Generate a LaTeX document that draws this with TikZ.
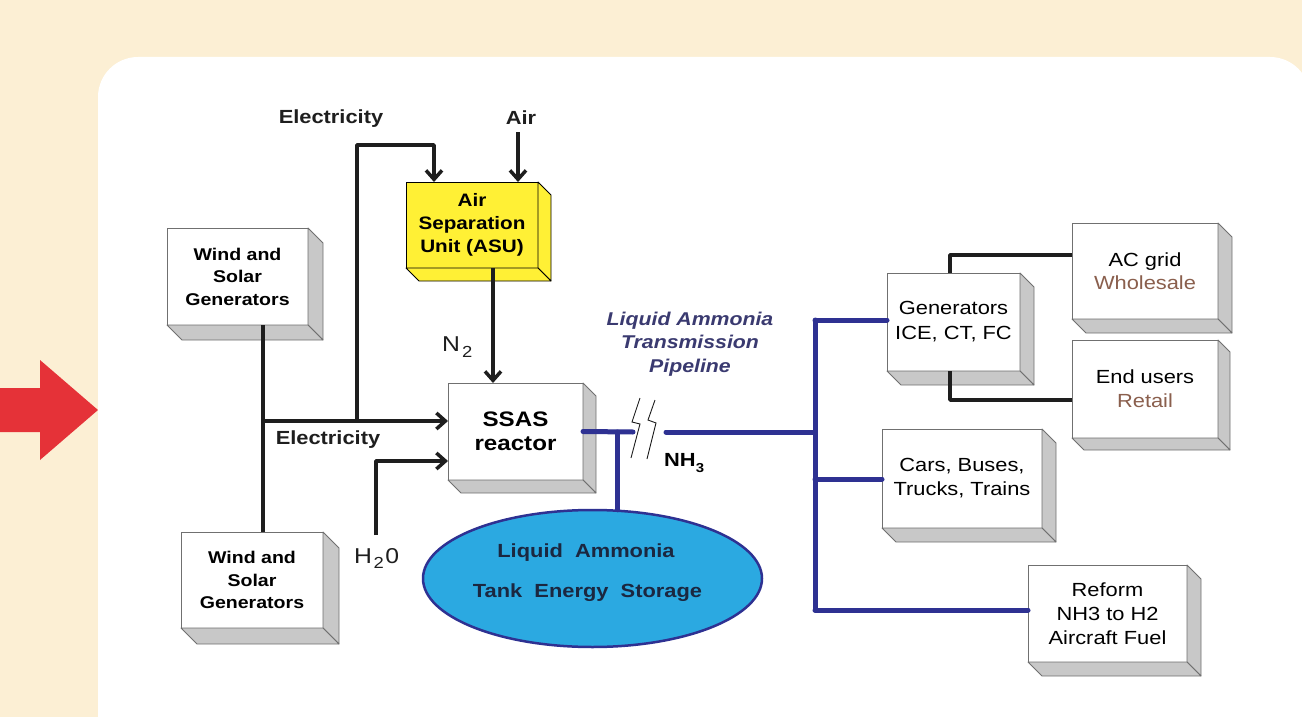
\documentclass[tikz,border=0pt]{standalone}
\usepackage{fontspec}
\setmainfont{Liberation Sans}[FakeStretch=1.15]
\usetikzlibrary{arrows.meta,shapes.geometric}
\definecolor{cream}{HTML}{FCEFD4}
\definecolor{redarrow}{HTML}{E53238}
\definecolor{boxedge}{HTML}{707070}
\definecolor{shade}{HTML}{C8C8C8}
\definecolor{asuyellow}{HTML}{FFF035}
\definecolor{pipeblue}{HTML}{2E3192}
\definecolor{tankblue}{HTML}{2BA9E1}
\definecolor{brownish}{HTML}{8A5F4D}
\definecolor{navytext}{HTML}{3A3A70}
\definecolor{tanktext}{HTML}{1B2740}
\definecolor{darkline}{HTML}{1E1E1E}
\newcommand\fsz[2]{\fontsize{#1}{#2}\selectfont}
\tikzset{
  box3d/.style={draw=boxedge, fill=white, line width=1pt, inner sep=0pt, outer sep=0pt, align=center, text=black},
  face/.style={fill=shade, draw=boxedge, line width=0.8pt, line join=round},
  yface/.style={fill=asuyellow, draw=black, line width=0.8pt, line join=round},
  conn/.style={draw=darkline, line width=3.5pt, line join=round},
  arr/.style={conn, -{Straight Barb[length=9pt,width=16pt]}},
  pipe/.style={draw=pipeblue, line width=5pt, line cap=round},
  lbl/.style={inner sep=0pt, font=\bfseries\fsz{19}{23}, text=darkline, align=center},
  plain/.style={inner sep=0pt, font=\fsz{21.5}{24}, text=darkline},
  brk/.style={draw=darkline, line width=0.9pt},
  tanklbl/.style={inner sep=0pt, font=\bfseries\fsz{19}{22}, text=tanktext},
}
\begin{document}
\begin{tikzpicture}[x=1pt,y=-1pt]
\useasboundingbox (0,0) rectangle (1302,717);
\fill[cream] (0,0) rectangle (1302,717);
\fill[white, rounded corners=40pt] (98,57) rectangle (1310,770);
% red arrow
\fill[redarrow] (0,388) -- (40,388) -- (40,360) -- (98,410) -- (40,460) -- (40,432) -- (0,432) -- cycle;

% boxes
\node[box3d, minimum width=141pt, minimum height=97pt, font=\bfseries\fsz{17}{22.5}] (ws1) at (237.5,276.5) {Wind and\\Solar\\Generators};
\node[box3d, minimum width=142pt, minimum height=96pt, font=\bfseries\fsz{17}{22.5}] (ws2) at (252,580) {Wind and\\Solar\\Generators};
\node[box3d, draw=black, fill=asuyellow, minimum width=132pt, minimum height=86pt, font=\bfseries\fsz{18}{23}] (asu) at (472,225) {Air\\Separation\\Unit (ASU)};
\node[box3d, minimum width=135pt, minimum height=97pt, font=\bfseries\fsz{21}{24.5}] (ssas) at (515.5,431.5) {SSAS\\reactor};
\node[box3d, minimum width=133pt, minimum height=98pt, font=\fsz{19}{25}] (gen) at (953.5,322) {Generators\\ICE, CT, FC};
\node[box3d, minimum width=146pt, minimum height=96pt, font=\fsz{19}{23}] (ac) at (1145,271) {AC grid\\\textcolor{brownish}{Wholesale}};
\node[box3d, minimum width=146pt, minimum height=98pt, font=\fsz{19}{24}] (eu) at (1145,389) {End users\\\textcolor{brownish}{Retail}};
\node[box3d, minimum width=160pt, minimum height=99pt, font=\fsz{19}{24}] (cars) at (962,478.5) {Cars, Buses,\\Trucks, Trains};
\node[box3d, minimum width=159pt, minimum height=97pt, font=\fsz{19}{24}] (reform) at (1107.5,613.5) {Reform\\NH3 to H2\\Aircraft Fuel};

% 3D faces
\foreach \n/\d in {ws1/15, ws2/16, ssas/13, gen/14, ac/14, eu/12, cars/14, reform/14}{
  \filldraw[face] (\n.north east) -- ++(\d,\d) -- ([shift={(\d,\d)}]\n.south east) -- (\n.south east) -- cycle;
  \filldraw[face] (\n.south west) -- ++(\d,\d) -- ([shift={(\d,\d)}]\n.south east) -- (\n.south east) -- cycle;
}
\foreach \n/\d in {asu/13}{
  \filldraw[yface] (\n.north east) -- ++(\d,\d) -- ([shift={(\d,\d)}]\n.south east) -- (\n.south east) -- cycle;
  \filldraw[yface] (\n.south west) -- ++(\d,\d) -- ([shift={(\d,\d)}]\n.south east) -- (\n.south east) -- cycle;
}

% tank
\node[ellipse, draw=pipeblue, fill=tankblue, line width=2.5pt, minimum width=339pt, minimum height=137pt, inner sep=0pt] (tank) at (592.5,578.5) {};
\node[tanklbl] (tank1) at (586,553) {Liquid~~Ammonia};
\node[tanklbl] (tank2) at (587.5,593) {Tank~~Energy~~Storage};

% labels
\node[lbl] (elec1) at (331,119) {Electricity};
\node[lbl] (air) at (521,118) {Air};
\node[lbl] (elec2) at (328,440) {Electricity};
\node[plain, anchor=base west] (n2) at (442,351) {N\hspace{2pt}\raisebox{-6pt}{\fsz{16}{16}\selectfont 2}};
\node[plain, anchor=base west] (h2o) at (354,563) {H\hspace{1.5pt}\raisebox{-5pt}{\fsz{16}{16}\selectfont 2}\hspace{1.5pt}0};
\node[inner sep=0pt, font=\bfseries\fsz{19}{23}, anchor=base west] (nh3) at (664,466) {NH\raisebox{-6pt}{\fsz{13}{13}\selectfont 3}};
\node[inner sep=0pt, font=\bfseries\itshape\fsz{18.5}{23.5}, text=navytext, align=center] (pipetxt) at (690,344) {Liquid Ammonia\\Transmission\\Pipeline};

% coordinates
\coordinate (j1) at (263,421);
\coordinate (j2) at (357,421);
\coordinate (topc) at (357,145);
\coordinate (airin) at (518,132);
\coordinate (h2oc) at (376,535);
\coordinate (brk1) at (633,432);
\coordinate (brk2) at (666,432);
\coordinate (busM) at (815,432);
\coordinate (busT) at (815,320);
\coordinate (busC) at (815,479);
\coordinate (busB) at (815,610);
\coordinate (tj) at (617,432);

% black connectors
\draw[conn] ([xshift=25.5pt]ws1.south) -- ([xshift=25.5pt]ws1.south |- ws2.north);
\draw[arr] (j1) -- (j1 -| ssas.west);
\draw[arr] (j2) -- (topc) -| ([xshift=-38pt]asu.north);
\draw[arr] (airin) -- (airin |- asu.north);
\draw[arr] ([xshift=21pt]asu.south) -- ([xshift=21pt]asu.south |- ssas.north);
\draw[arr] (h2oc) |- ([yshift=-29.5pt]ssas.west);
\draw[conn] ([xshift=-3.5pt]gen.north) |- ([yshift=16pt]ac.west);
\draw[conn] ([xshift=-3.5pt]gen.south) |- ([yshift=-11pt]eu.west);

% blue pipeline
\draw[pipe] (ssas.east) -- (brk1);
\draw[pipe] (brk2) -- (busM);
\draw[pipe] (tj) -- ([yshift=-1pt]tj |- tank.north);
\draw[pipe] (busT) -- (busB);
\draw[pipe] (busT) -- (busT -| gen.west);
\draw[pipe] (busC) -- (busC -| cars.west);
\draw[pipe] (busB) -- (busB -| reform.west);

% break symbol
\draw[brk] (640,398) -- (632,422) -- (640,424) -- (631,458);
\draw[brk] (655,400) -- (648,420) -- (656,423) -- (647,459);
\end{tikzpicture}
\end{document}
